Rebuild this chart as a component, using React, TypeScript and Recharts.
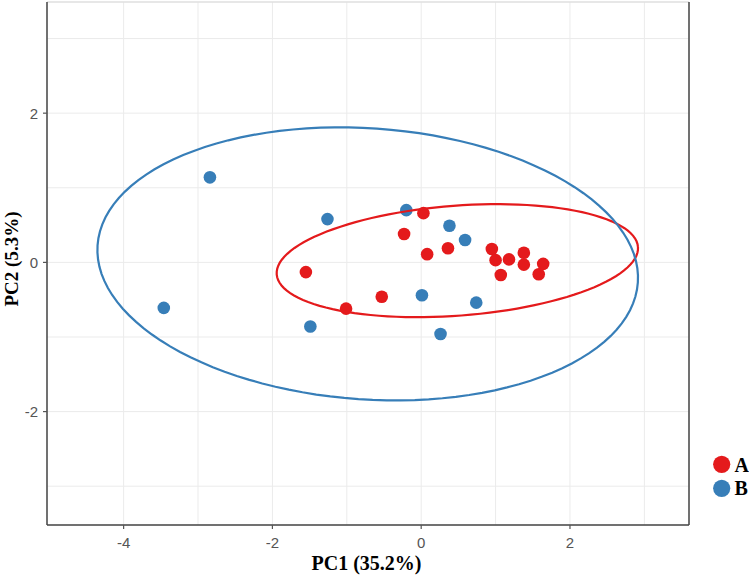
import {
  ScatterChart,
  Scatter,
  XAxis,
  YAxis,
  CartesianGrid,
  ReferenceLine,
} from "recharts";

// scores
const GROUPS = ["A", "B"];
const COLORS = ["#E41A1C", "#377EB8"];

const A_PC1 = [0.03, -0.23, 0.08, 0.36, 0.95, 1.0, 1.18, 1.38, 1.38, 1.64, 1.58, 1.07, -1.55, -0.53, -1.01];
const A_PC2 = [0.66, 0.38, 0.11, 0.19, 0.18, 0.03, 0.04, 0.13, -0.03, -0.02, -0.16, -0.17, -0.13, -0.46, -0.62];

const B_PC1 = [-2.84, -3.46, -1.26, -1.49, -0.2, 0.38, 0.59, 0.01, 0.74, 0.26];
const B_PC2 = [1.14, -0.61, 0.58, -0.86, 0.7, 0.49, 0.3, -0.44, -0.54, -0.96];

// 95% ellipses (center, semi axes, rotation) per group
const ELLIPSE_CX = [0.486, -0.719];
const ELLIPSE_CY = [0.023, -0.02];
const ELLIPSE_A = [2.435, 3.64];
const ELLIPSE_B = [0.737, 1.817];
const ELLIPSE_ANGLE = [4.33, -3.93];

const X_DOMAIN = [-5.03, 3.6];
const Y_DOMAIN = [-3.52, 3.49];
const X_TICKS = [-4, -3, -2, -1, 0, 1, 2, 3];
const Y_TICKS = [-3, -2, -1, 0, 1, 2, 3];
const MAJOR = [-4, -2, 0, 2];

const points = (xs: number[], ys: number[]) => xs.map((x, i) => ({ x, y: ys[i] }));

const ellipse = (g: number) => {
  const th = (ELLIPSE_ANGLE[g] * Math.PI) / 180;
  const out = [];
  for (let i = 0; i <= 120; i++) {
    const t = (i / 120) * 2 * Math.PI;
    const ex = ELLIPSE_A[g] * Math.cos(t);
    const ey = ELLIPSE_B[g] * Math.sin(t);
    out.push({
      x: ELLIPSE_CX[g] + ex * Math.cos(th) - ey * Math.sin(th),
      y: ELLIPSE_CY[g] + ex * Math.sin(th) + ey * Math.cos(th),
    });
  }
  return out;
};

const series = [points(A_PC1, A_PC2), points(B_PC1, B_PC2)];

const tickFont = "'Liberation Sans Narrow', 'Liberation Sans', Arial, sans-serif";
const titleFont = "'Liberation Serif', 'Times New Roman', serif";

const XTick = (props: any) => {
  const { x, y, payload } = props;
  if (!MAJOR.includes(payload.value)) return <g />;
  return (
    <g>
      <line x1={x} x2={x} y1={y} y2={y + 4} stroke="#555" strokeWidth={1.2} />
      <text x={x} y={y + 23} textAnchor="middle" fontSize={15} fill="#555" fontFamily={tickFont}>
        {payload.value}
      </text>
    </g>
  );
};

const YTick = (props: any) => {
  const { x, y, payload } = props;
  if (!MAJOR.includes(payload.value)) return <g />;
  return (
    <g>
      <line x1={x - 4} x2={x} y1={y} y2={y} stroke="#555" strokeWidth={1.2} />
      <text x={x - 9} y={y + 5.5} textAnchor="end" fontSize={15} fill="#555" fontFamily={tickFont}>
        {payload.value}
      </text>
    </g>
  );
};

const Dot = (color: string) => (props: any) =>
  <circle cx={props.cx} cy={props.cy} r={6.3} fill={color} />;

export default function App() {
  return (
    <div style={{ position: "absolute", left: 0, top: 0, width: 749, height: 577, background: "#fff" }}>
      <ScatterChart width={749} height={577} margin={{ top: 2, right: 60, bottom: 0, left: 0 }}>
        <CartesianGrid stroke="#ebebeb" strokeWidth={1} />
        <XAxis
          type="number"
          dataKey="x"
          domain={X_DOMAIN}
          ticks={X_TICKS}
          interval={0}
          height={52}
          tickSize={0}
          tickMargin={0}
          tickLine={false}
          axisLine={{ stroke: "#444", strokeWidth: 1.5 }}
          tick={<XTick />}
          allowDataOverflow
          label={(p: any) => (
            <text
              x={p.viewBox.x + p.viewBox.width / 2 - 1.5}
              y={570}
              textAnchor="middle"
              fontSize={20}
              fontWeight="bold"
              fontFamily={titleFont}
              fill="#000"
            >
              PC1 (35.2%)
            </text>
          )}
        />
        <YAxis
          type="number"
          dataKey="y"
          domain={Y_DOMAIN}
          ticks={Y_TICKS}
          interval={0}
          width={47}
          tickSize={0}
          tickMargin={0}
          tickLine={false}
          axisLine={{ stroke: "#444", strokeWidth: 1.5 }}
          tick={<YTick />}
          allowDataOverflow
          label={() => (
            <text
              x={18}
              y={259}
              transform="rotate(-90 18 259)"
              textAnchor="middle"
              fontSize={19}
              fontWeight="bold"
              fontFamily={titleFont}
              fill="#000"
            >
              PC2 (5.3%)
            </text>
          )}
        />
        <ReferenceLine y={Y_DOMAIN[1]} stroke="#d9d9d9" strokeWidth={1.2} />
        <ReferenceLine x={X_DOMAIN[1]} stroke="#444" strokeWidth={1.5} />
        {GROUPS.map((g, i) => (
          <Scatter
            key={g}
            name={g}
            data={series[i]}
            fill={COLORS[i]}
            shape={Dot(COLORS[i])}
            isAnimationActive={false}
          />
        ))}
        {GROUPS.map((g, i) => (
          <Scatter
            key={"ell" + g}
            data={ellipse(i)}
            line={{ stroke: COLORS[i], strokeWidth: 2.2 }}
            lineType="joint"
            shape={() => <g />}
            legendType="none"
            isAnimationActive={false}
          />
        ))}
      </ScatterChart>
      <svg width={749} height={577} style={{ position: "absolute", left: 0, top: 0, pointerEvents: "none" }}>
        {GROUPS.map((g, i) => (
          <g key={g}>
            <circle cx={721.7} cy={464.3 + i * 24} r={8.6} fill={COLORS[i]} />
            <text x={734.5} y={471.7 + i * 23.5} fontSize={20} fontWeight="bold" fontFamily={titleFont} fill="#000">
              {g}
            </text>
          </g>
        ))}
      </svg>
    </div>
  );
}
